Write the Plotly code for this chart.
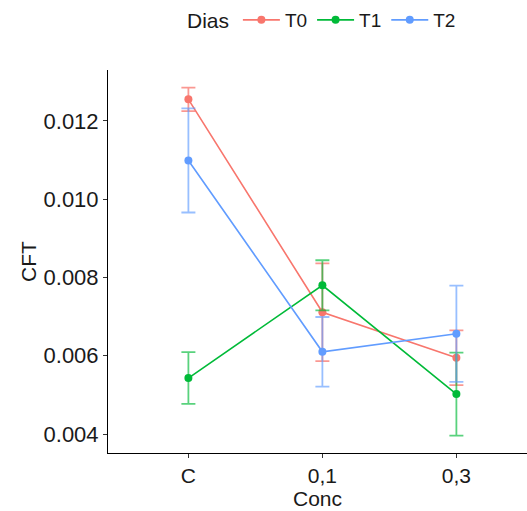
import plotly.graph_objects as go

categories = ["C", "0,1", "0,3"]
series_names = ["T0", "T1", "T2"]
t0_mean = [0.01255, 0.00711, 0.00595]
t0_err = [0.00030, 0.00125, 0.00070]
t1_mean = [0.00543, 0.00780, 0.00502]
t1_err = [0.00066, 0.00064, 0.00106]
t2_mean = [0.01099, 0.00610, 0.00656]
t2_err = [0.00133, 0.00089, 0.00123]
y_ticks = [0.004, 0.006, 0.008, 0.010, 0.012]

colors = ["#F8766D", "#00BA38", "#619CFF"]
err_colors = ["rgba(248,118,109,0.75)", "rgba(0,186,56,0.65)", "rgba(97,156,255,0.65)"]

xpos = list(range(1, len(categories) + 1))
means = [t0_mean, t1_mean, t2_mean]
errs = [t0_err, t1_err, t2_err]

fig = go.Figure()
for name, m, e, c, ec in zip(series_names, means, errs, colors, err_colors):
    fig.add_trace(go.Scatter(
        x=xpos, y=m, name=name, mode="lines+markers",
        line=dict(color=c, width=1.6),
        marker=dict(color=c, size=8),
        error_y=dict(type="data", array=e, visible=True, color=ec, thickness=1.8, width=7),
    ))

font = "Liberation Sans, Arial, Helvetica, sans-serif"
fig.update_layout(
    width=527, height=511,
    margin=dict(l=108, r=0, t=70, b=58),
    plot_bgcolor="white", paper_bgcolor="white",
    font=dict(family=font, size=20, color="#1a1a1a"),
    showlegend=True,
    legend=dict(
        orientation="h", x=0.31, xanchor="left", y=1.1305, yanchor="middle",
        font=dict(size=19), itemwidth=37, tracegroupgap=0,
    ),
    annotations=[dict(
        text="Dias", x=0.2387, y=1.1305, xref="paper", yref="paper",
        xanchor="center", yanchor="middle", showarrow=False,
        font=dict(size=21),
    )],
    xaxis=dict(
        range=[0.4, 3.527], tickvals=xpos, ticktext=categories,
        showgrid=False, zeroline=False, showline=True, linecolor="black", linewidth=1,
        ticks="outside", ticklen=4, tickcolor="#333", tickwidth=1,
        title=dict(text="Conc", font=dict(size=21), standoff=2),
        tickfont=dict(size=21),
    ),
    yaxis=dict(
        range=[0.003515, 0.0133], tickvals=y_ticks,
        tickformat=".3f",
        showgrid=False, zeroline=False, showline=True, linecolor="black", linewidth=1,
        ticks="outside", ticklen=4, tickcolor="#333", tickwidth=1,
        title=dict(text="CFT", font=dict(size=21), standoff=1),
        tickfont=dict(size=22),
    ),
)

fig.write_html("out.html")
